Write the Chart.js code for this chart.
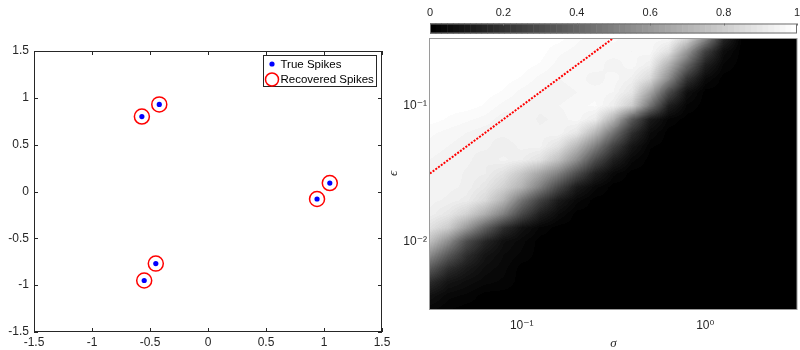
<!DOCTYPE html>
<html>
<head>
<meta charset="utf-8">
<script src="https://cdn.jsdelivr.net/npm/chart.js@4.4.0/dist/chart.umd.min.js"></script>
<style>
  html, body { margin: 0; padding: 0; background: #fff; }
  #wrap { position: relative; width: 800px; height: 350px; }
  #left { position: absolute; left: 0; top: 0; }
  #right { position: absolute; left: 384px; top: 0; }
</style>
</head>
<body>
<div id="wrap">
  <canvas id="left" width="394" height="350"></canvas>
  <canvas id="right" width="416" height="350"></canvas>
</div>
<script>
// ---- left panel: spike locations ----
const trueX = [-0.57, -0.42, 0.94, 1.05, -0.45, -0.55];
const trueY = [0.80, 0.93, -0.08, 0.09, -0.77, -0.95];
const recX = [-0.57, -0.42, 0.94, 1.05, -0.45, -0.55];
const recY = [0.80, 0.93, -0.08, 0.09, -0.77, -0.95];
const spikeTicks = [-1.5, -1, -0.5, 0, 0.5, 1, 1.5];

// ---- right panel: recovery rate over (sigma, epsilon), log10 grid ----
const sigmaExp = [-1.5, -1.4, -1.3, -1.2, -1.1, -1.0, -0.9, -0.8, -0.7, -0.6, -0.5,
                  -0.4, -0.3, -0.2, -0.1, 0.0, 0.1, 0.2, 0.3, 0.4, 0.5];
// rows go top (large epsilon) to bottom
const epsExp = [-0.5, -0.6, -0.7, -0.8, -0.9, -1.0, -1.1, -1.2, -1.3, -1.4, -1.5,
                -1.6, -1.7, -1.8, -1.9, -2.0, -2.1, -2.2, -2.3, -2.4, -2.5];
const rate = [
  [1,1,1,1,1,1,1,1,0.98,0.97,0.98,0.97,0.97,0.97,0.85,0.55,0.15,0,0,0,0],
  [1,1,1,1,1,1,1,0.98,0.97,0.96,0.97,0.96,0.97,0.88,0.6,0.25,0.05,0,0,0,0],
  [1,1,1,1,1,1,0.99,0.97,0.96,0.97,0.95,0.97,0.93,0.7,0.4,0.12,0.02,0,0,0,0],
  [1,1,1,1,1,0.99,0.97,0.96,0.97,0.95,0.97,0.94,0.85,0.55,0.2,0.04,0,0,0,0,0],
  [1,1,1,1,0.99,0.97,0.96,0.95,0.96,0.97,0.96,0.9,0.65,0.3,0.06,0,0,0,0,0,0],
  [1,1,1,0.99,0.97,0.96,0.95,0.96,0.97,0.98,0.93,0.8,0.45,0.12,0.02,0,0,0,0,0,0],
  [1,0.99,0.98,0.97,0.95,0.96,0.94,0.95,0.97,0.92,0.7,0.35,0.1,0.02,0,0,0,0,0,0,0],
  [0.98,0.97,0.96,0.95,0.95,0.96,0.95,0.96,0.9,0.72,0.45,0.18,0.04,0,0,0,0,0,0,0,0],
  [0.97,0.96,0.95,0.95,0.93,0.95,0.95,0.88,0.72,0.5,0.25,0.08,0.01,0,0,0,0,0,0,0,0],
  [0.96,0.95,0.95,0.93,0.95,0.93,0.88,0.75,0.55,0.3,0.12,0.03,0,0,0,0,0,0,0,0,0],
  [0.95,0.96,0.94,0.93,0.88,0.78,0.65,0.5,0.3,0.12,0.03,0,0,0,0,0,0,0,0,0,0],
  [0.96,0.95,0.94,0.9,0.82,0.7,0.5,0.28,0.1,0.03,0,0,0,0,0,0,0,0,0,0,0],
  [0.95,0.94,0.92,0.85,0.7,0.45,0.25,0.1,0.03,0,0,0,0,0,0,0,0,0,0,0,0],
  [0.94,0.9,0.82,0.68,0.5,0.28,0.12,0.04,0,0,0,0,0,0,0,0,0,0,0,0,0],
  [0.88,0.8,0.6,0.38,0.18,0.07,0.02,0,0,0,0,0,0,0,0,0,0,0,0,0,0],
  [0.75,0.55,0.3,0.15,0.06,0.03,0,0,0,0,0,0,0,0,0,0,0,0,0,0,0],
  [0.55,0.35,0.18,0.08,0.04,0.02,0,0,0,0,0,0,0,0,0,0,0,0,0,0,0],
  [0.35,0.18,0.1,0.05,0.03,0,0,0,0,0,0,0,0,0,0,0,0,0,0,0,0],
  [0.17,0.08,0.05,0.03,0.02,0,0,0,0,0,0,0,0,0,0,0,0,0,0,0,0],
  [0.07,0.03,0.02,0,0,0,0,0,0,0,0,0,0,0,0,0,0,0,0,0,0],
  [0.03,0.01,0,0,0,0,0,0,0,0,0,0,0,0,0,0,0,0,0,0,0]
];
const sigmaTicks = [0.1, 1];
const epsTicks = [0.01, 0.1];
const cbTicks = [0, 0.2, 0.4, 0.6, 0.8, 1];
// dotted reference line eps = sigma
const lineSigma = [0.0316, 0.316];
const lineEps = [0.0316, 0.316];

const FONT = '"Liberation Sans", Arial, "DejaVu Sans", sans-serif';
const INK = '#262626';

const sup = { '-': '\u207B', '0': '\u2070', '1': '\u00B9', '2': '\u00B2', '3': '\u00B3' };
function powLabel(v) {
  const e = String(Math.round(Math.log10(v)));
  return '10' + e.split('').map(c => sup[c]).join('');
}

function setTicks(list) {
  return s => { s.ticks = list.map(v => ({ value: v })); };
}
// fixed axis thickness, no extra side padding for edge labels
function fitH(h) {
  return s => { s.height = h; s.paddingLeft = 0; s.paddingRight = 0; };
}
function fitW(w) {
  return s => { s.width = w; s.paddingTop = 0; s.paddingBottom = 0; };
}

// ---------- left chart ----------
const spikeFrame = {
  id: 'spikeFrame',
  afterDraw(chart) {
    const { ctx, chartArea: a, scales } = chart;
    ctx.save();
    ctx.strokeStyle = INK;
    ctx.lineWidth = 1;
    ctx.strokeRect(a.left + 0.5, a.top + 0.5, a.right - a.left - 1, a.bottom - a.top - 1);
    const len = 4;
    ctx.beginPath();
    scales.x.ticks.forEach(t => {
      const px = Math.round(scales.x.getPixelForValue(t.value)) + 0.5;
      ctx.moveTo(px, a.bottom); ctx.lineTo(px, a.bottom - len);
      ctx.moveTo(px, a.top); ctx.lineTo(px, a.top + len);
    });
    scales.y.ticks.forEach(t => {
      const py = Math.round(scales.y.getPixelForValue(t.value)) + 0.5;
      ctx.moveTo(a.left, py); ctx.lineTo(a.left + len, py);
      ctx.moveTo(a.right, py); ctx.lineTo(a.right - len, py);
    });
    ctx.stroke();

    // legend box, top right inside the axes
    const ds = chart.data.datasets;
    const bw = 114, bh = 32;
    const bx = a.right - 5 - bw, by = a.top + 4;
    ctx.fillStyle = '#fff';
    ctx.fillRect(bx, by, bw, bh);
    ctx.strokeRect(bx + 0.5, by + 0.5, bw - 1, bh - 1);
    ctx.font = '11.5px ' + FONT;
    ctx.textBaseline = 'middle';
    ds.forEach((d, i) => {
      const cy = by + 9 + i * 15.5;
      const cx = bx + 9;
      ctx.beginPath();
      ctx.arc(cx, cy, i === 0 ? d.pointRadius : 6.5, 0, Math.PI * 2);
      if (i === 0) {
        ctx.fillStyle = d.pointBackgroundColor;
        ctx.fill();
      } else {
        ctx.strokeStyle = d.pointBorderColor;
        ctx.lineWidth = d.pointBorderWidth;
        ctx.stroke();
      }
      ctx.fillStyle = '#000';
      ctx.fillText(d.label, bx + 17.5, cy + 0.5);
    });
    ctx.restore();
  }
};

new Chart(document.getElementById('left'), {
  type: 'scatter',
  data: {
    datasets: [{
      label: 'True Spikes',
      data: trueX.map((x, i) => ({ x, y: trueY[i] })),
      pointRadius: 2.6,
      pointBackgroundColor: '#0000ff',
      pointBorderWidth: 0
    }, {
      label: 'Recovered Spikes',
      data: recX.map((x, i) => ({ x, y: recY[i] })),
      pointRadius: 7.5,
      pointBackgroundColor: 'rgba(0,0,0,0)',
      pointBorderColor: '#ff0000',
      pointBorderWidth: 1.5
    }]
  },
  options: {
    responsive: false,
    animation: false,
    events: [],
    layout: { padding: { top: 51, right: 12, left: 0, bottom: 0 } },
    plugins: { legend: { display: false }, tooltip: { enabled: false } },
    scales: {
      x: {
        min: -1.5, max: 1.5,
        afterBuildTicks: setTicks(spikeTicks),
        afterFit: fitH(18),
        grid: { display: false, drawTicks: false }, border: { display: false },
        ticks: { padding: 3, maxRotation: 0, autoSkip: false, color: INK, font: { family: FONT, size: 12 },
                 callback: v => String(v) }
      },
      y: {
        min: -1.5, max: 1.5,
        afterBuildTicks: setTicks(spikeTicks),
        afterFit: fitW(34),
        grid: { display: false, drawTicks: false }, border: { display: false },
        ticks: { padding: 5, color: INK, font: { family: FONT, size: 12 }, callback: v => String(v) }
      }
    }
  },
  plugins: [spikeFrame]
});

// ---------- right chart ----------
function fracIndex(arr, v) {
  const n = arr.length;
  for (let k = 0; k < n - 1; k++) {
    const a = arr[k], b = arr[k + 1];
    if ((v - a) * (v - b) <= 0) return k + (v - a) / (b - a);
  }
  return Math.abs(v - arr[0]) < Math.abs(v - arr[n - 1]) ? 0 : n - 1;
}

const heatmap = {
  id: 'heatmap',
  beforeDatasetsDraw(chart) {
    const { ctx, chartArea: a, scales } = chart;
    const w = Math.round(a.right - a.left), h = Math.round(a.bottom - a.top);
    const off = document.createElement('canvas');
    off.width = w; off.height = h;
    const octx = off.getContext('2d');
    const img = octx.createImageData(w, h);
    const fx = [], fy = [];
    for (let i = 0; i < w; i++) fx.push(fracIndex(sigmaExp, Math.log10(scales.x.getValueForPixel(a.left + i + 0.5))));
    for (let j = 0; j < h; j++) fy.push(fracIndex(epsExp, Math.log10(scales.y.getValueForPixel(a.top + j + 0.5))));
    const nr = epsExp.length, nc = sigmaExp.length;
    for (let j = 0; j < h; j++) {
      const r0 = Math.min(Math.floor(fy[j]), nr - 1), r1 = Math.min(r0 + 1, nr - 1), t = fy[j] - r0;
      for (let i = 0; i < w; i++) {
        const c0 = Math.min(Math.floor(fx[i]), nc - 1), c1 = Math.min(c0 + 1, nc - 1), s = fx[i] - c0;
        const top = rate[r0][c0] * (1 - s) + rate[r0][c1] * s;
        const bot = rate[r1][c0] * (1 - s) + rate[r1][c1] * s;
        const v = top * (1 - t) + bot * t;
        const g = Math.round(Math.round(v * 63) / 63 * 255);
        const p = (j * w + i) * 4;
        img.data[p] = g; img.data[p + 1] = g; img.data[p + 2] = g; img.data[p + 3] = 255;
      }
    }
    octx.putImageData(img, 0, 0);
    ctx.drawImage(off, a.left, a.top);
  },
  afterDatasetsDraw(chart) {
    const { ctx, chartArea: a, scales } = chart;
    ctx.save();
    ctx.strokeStyle = '#9a9a9a';
    ctx.lineWidth = 1;
    ctx.strokeRect(a.left - 0.5, a.top + 0.5, a.right - a.left + 0.5, a.bottom - a.top);
    // colorbar
    const cb = scales.cb;
    const x0 = cb.getPixelForValue(0), x1 = cb.getPixelForValue(1);
    const yTop = cb.bottom - 14.5, hh = 10;
    const steps = 64;
    for (let k = 0; k < steps; k++) {
      const g = Math.round(k / (steps - 1) * 255);
      const xa = cb.getPixelForValue(k / steps), xb = cb.getPixelForValue((k + 1) / steps);
      ctx.fillStyle = `rgb(${g},${g},${g})`;
      ctx.fillRect(xa, yTop, xb - xa + 0.5, hh);
    }
    ctx.strokeStyle = '#6e6e6e';
    ctx.strokeRect(x0 + 0.5, yTop + 0.5, x1 - x0 - 1, hh - 1);
    ctx.beginPath();
    cb.ticks.forEach(t => {
      const px = Math.round(cb.getPixelForValue(t.value)) + 0.5;
      ctx.moveTo(px, yTop); ctx.lineTo(px, yTop + 2);
    });
    ctx.stroke();
    ctx.restore();
  }
};

new Chart(document.getElementById('right'), {
  type: 'line',
  data: {
    datasets: [{
      data: lineSigma.map((x, i) => ({ x, y: lineEps[i] })),
      borderColor: '#ff0000',
      borderWidth: 2,
      borderDash: [2, 1.4],
      pointRadius: 0,
      fill: false,
      xAxisID: 'x', yAxisID: 'y'
    }]
  },
  options: {
    responsive: false,
    animation: false,
    events: [],
    layout: { padding: { top: 0, right: 3, left: 0, bottom: 0 } },
    plugins: { legend: { display: false }, tooltip: { enabled: false } },
    scales: {
      x: {
        type: 'logarithmic', position: 'bottom',
        min: Math.pow(10, sigmaExp[0]), max: Math.pow(10, sigmaExp[sigmaExp.length - 1]),
        afterBuildTicks: setTicks(sigmaTicks),
        afterFit: fitH(41),
        grid: { display: false, drawTicks: false }, border: { display: false },
        ticks: { padding: 9, maxRotation: 0, autoSkip: false, color: INK, font: { family: FONT, size: 12 },
                 callback: v => powLabel(v) },
        title: { display: true, text: 'σ', color: INK, padding: { top: 0, bottom: 0 },
                 font: { family: '"Liberation Serif", "DejaVu Serif", serif', style: 'italic', size: 13, lineHeight: 1 } }
      },
      y: {
        type: 'logarithmic', position: 'left',
        min: Math.pow(10, epsExp[epsExp.length - 1]), max: Math.pow(10, epsExp[0]),
        afterBuildTicks: setTicks(epsTicks),
        afterFit: fitW(46),
        grid: { display: false, drawTicks: false }, border: { display: false },
        ticks: { padding: 3, color: INK, font: { family: FONT, size: 12 }, callback: v => powLabel(v) },
        title: { display: true, text: 'ϵ', color: INK, padding: { top: 3, bottom: 0 },
                 font: { family: '"Liberation Serif", "DejaVu Serif", serif', style: 'italic', size: 13, lineHeight: 1 } }
      },
      cb: {
        axis: 'x', type: 'linear', position: 'top',
        min: 0, max: 1,
        afterBuildTicks: setTicks(cbTicks),
        afterFit: fitH(38),
        grid: { display: false, drawTicks: false }, border: { display: false },
        ticks: { padding: 18, maxRotation: 0, autoSkip: false, color: INK, font: { family: FONT, size: 11 },
                 callback: v => String(v) }
      }
    }
  },
  plugins: [heatmap]
});
</script>
</body>
</html>
